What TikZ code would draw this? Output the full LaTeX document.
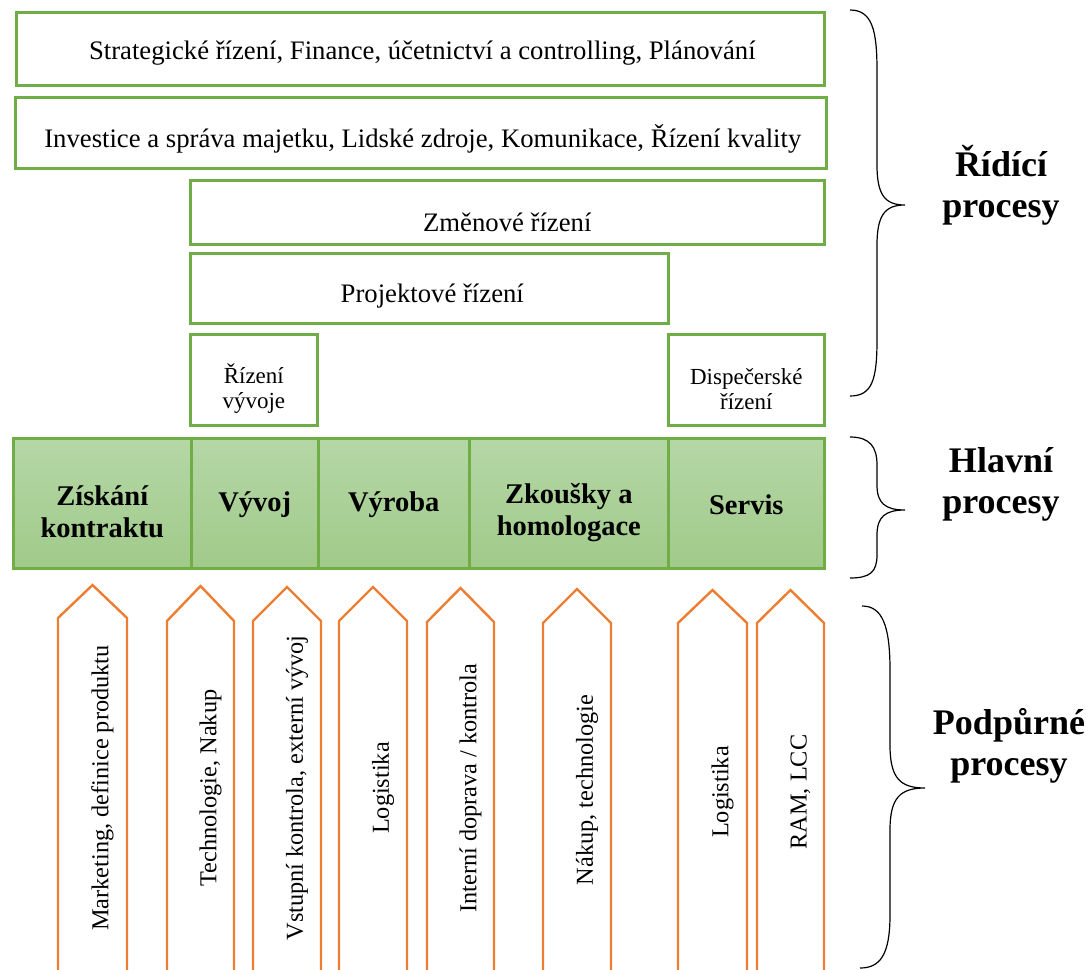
\documentclass[tikz,border=0pt]{standalone}
\usepackage{fontspec}
\setmainfont{Liberation Serif}
\usetikzlibrary{calc}
\definecolor{boxgreen}{HTML}{70AD47}
\definecolor{bandtop}{HTML}{B5D7A6}
\definecolor{bandbot}{HTML}{A0CA8A}
\definecolor{suporange}{HTML}{ED7D31}

% support arrow: name, left x, right x, tip y, shoulder y, label y, label
\newcommand\suparrow[7]{%
  \draw[suparrowline] (#2,970) -- (#2,#5) -- ({(#2+#3)/2},#4) -- (#3,#5) -- (#3,970);
  \node[suptext] (#1) at ({(#2+#3)/2+10},#6) {#7};
}

\begin{document}
\begin{tikzpicture}[x=1pt,y=-1pt,
  ctrlbox/.style={draw=boxgreen, line width=2.6pt, fill=white, anchor=north west,
    inner sep=0pt},
  ctrltext/.style={inner sep=0pt, align=center, font=\fontsize{26.7}{30}\selectfont},
  smalltext/.style={inner sep=0pt, align=center, font=\fontsize{23}{25}\selectfont},
  cell/.style={draw=boxgreen, line width=2.6pt, top color=bandtop, bottom color=bandbot,
    anchor=north west, inner sep=0pt, minimum height=130pt},
  celltext/.style={inner sep=0pt, align=center, font=\bfseries\fontsize{28.5}{32}\selectfont},
  suparrowline/.style={draw=suporange, line width=2.4pt, line join=miter},
  suptext/.style={rotate=90, inner sep=0pt, font=\fontsize{24.3}{28}\selectfont},
  bracepath/.style={draw=black, line width=1.2pt},
  sidelabel/.style={inner sep=0pt, align=center, font=\bfseries\fontsize{36}{41}\selectfont}
]
\useasboundingbox (0,0) rectangle (1088,970);

% control processes
\node[ctrlbox, minimum width=808pt, minimum height=73pt] (strat) at (15,11) {};
\node[ctrlbox, minimum width=811pt, minimum height=71pt] (inv) at (14,96) {};
\node[ctrlbox, minimum width=634pt, minimum height=64pt] (zmen) at (189,179) {};
\node[ctrlbox, minimum width=478pt, minimum height=70pt] (proj) at (189,252) {};
\node[ctrlbox, minimum width=127pt, minimum height=91pt] (rv) at (189,333) {};
\node[ctrlbox, minimum width=156pt, minimum height=91pt] (disp) at (667,333) {};

\node[ctrltext] (strat-t) at ($(strat.center)+(2,4.5)$)
  {Strategické řízení, Finance, účetnictví a controlling, Plánování};
\node[ctrltext] (inv-t) at ($(inv.center)+(2,6)$)
  {Investice a správa majetku, Lidské zdroje, Komunikace, Řízení kvality};
\node[ctrltext] (zmen-t) at ($(zmen.center)+(0,10)$) {Změnové řízení};
\node[ctrltext] (proj-t) at ($(proj.center)+(3,8)$) {Projektové řízení};
\node[smalltext] (rv-t) at ($(rv.center)+(0,8.5)$) {Řízení\\vývoje};
\node[smalltext] (disp-t) at ($(disp.center)+(0,9)$) {Dispečerské\\řízení};

% main processes
\node[cell, minimum width=178pt] (zisk) at (12,437) {};
\node[cell, minimum width=127pt] (vyv) at (190,437) {};
\node[cell, minimum width=151pt] (vyr) at (317,437) {};
\node[cell, minimum width=199pt] (zk) at (468,437) {};
\node[cell, minimum width=156pt] (serv) at (667,437) {};

\node[celltext] (zisk-t) at ($(zisk.center)+(0,8)$) {Získání\\kontraktu};
\node[celltext] (vyv-t) at ($(vyv.center)+(0,1)$) {Vývoj};
\node[celltext] (vyr-t) at ($(vyr.center)+(0,1)$) {Výroba};
\node[celltext] (zk-t) at ($(zk.center)+(0,9)$) {Zkoušky a\\homologace};
\node[celltext] (serv-t) at ($(serv.center)+(0,1)$) {Servis};

% support processes
\suparrow{a1}{58}{127}{585}{618}{788}{Marketing, definice produktu}
\suparrow{a2}{167}{234}{586}{621}{788}{Technologie, Nakup}
\suparrow{a3}{253}{321}{587}{621}{788}{Vstupní kontrola, externí vývoj}
\suparrow{a4}{339}{407}{587}{621}{788}{Logistika}
\suparrow{a5}{427}{494}{588}{622}{788}{Interní doprava / kontrola}
\suparrow{a6}{543}{611}{589}{623}{790}{Nákup, technologie}
\suparrow{a7}{678}{747}{590}{623}{792}{Logistika}
\suparrow{a8}{757}{824}{590}{623}{792}{RAM, LCC}

% braces
\coordinate (b1t) at (850,10);  \coordinate (b1m) at (905,205); \coordinate (b1b) at (850,396);
\coordinate (b2t) at (850,437); \coordinate (b2m) at (905,510); \coordinate (b2b) at (850,578);
\coordinate (b3t) at (862,606); \coordinate (b3m) at (925,788); \coordinate (b3b) at (860,968);

\draw[bracepath] (b1t) .. controls (872,10) and (877,30) .. (877,70) -- (877,165)
  .. controls (877,195) and (885,205) .. (b1m)
  .. controls (885,205) and (877,215) .. (877,245) -- (877,340)
  .. controls (877,380) and (872,396) .. (b1b);
\draw[bracepath] (b2t) .. controls (870,437) and (877,447) .. (877,465) -- (877,485)
  .. controls (877,503) and (885,510) .. (b2m)
  .. controls (885,510) and (877,517) .. (877,535) -- (877,555)
  .. controls (877,572) and (870,578) .. (b2b);
\draw[bracepath] (b3t) .. controls (882,606) and (890,625) .. (890,670) -- (890,745)
  .. controls (890,778) and (900,788) .. (b3m)
  .. controls (900,788) and (890,798) .. (890,830) -- (890,915)
  .. controls (890,955) and (880,968) .. (b3b);

\node[sidelabel] (lctrl) at (1001,185) {Řídící\\procesy};
\node[sidelabel] (lmain) at (1001,484) {Hlavní\\procesy};
\node[sidelabel] (lsup) at (1009,746) {Podpůrné\\procesy};
\end{tikzpicture}
\end{document}
